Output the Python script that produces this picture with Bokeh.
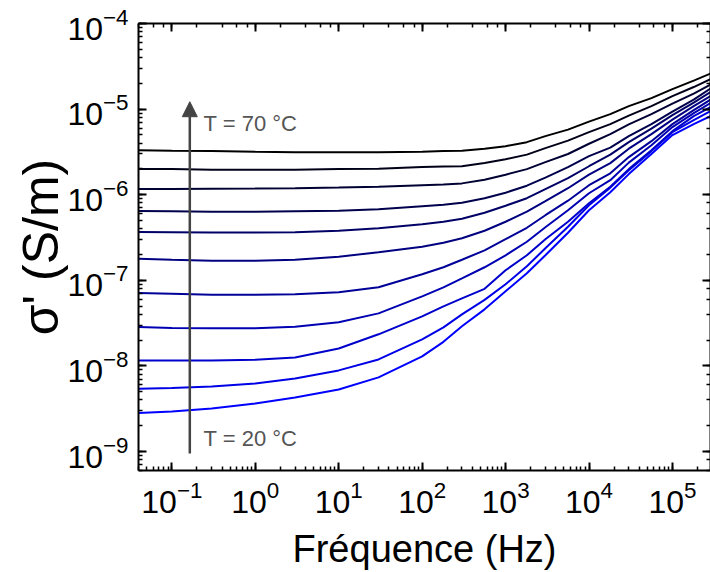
from bokeh.plotting import figure
from bokeh.models import Range1d, LogAxis, Arrow, NormalHead, Label, CustomJSTickFormatter
from bokeh.embed import file_html
from bokeh.resources import INLINE

# Frequency grid (Hz)
freq = [0.04, 0.1, 0.3, 1, 3, 10, 30, 100, 180, 300, 560, 1e3, 1800, 3e3, 5600,
        1e4, 1.8e4, 3e4, 5.6e4, 1e5, 1.8e5, 2.86e5]

# Temperatures (°C)
temps = [20, 25, 30, 35, 40, 45, 50, 55, 60, 65, 70]

# Real part of conductivity sigma' (S/m), one series per temperature
s20 = [2.81e-9, 2.94e-9, 3.18e-9, 3.64e-9, 4.28e-9, 5.31e-9, 7.34e-9, 1.29e-8, 1.91e-8, 2.90e-8, 4.58e-8,
       7.44e-8, 1.21e-7, 1.96e-7, 3.59e-7, 6.59e-7, 1.07e-6, 1.74e-6, 2.98e-6, 4.97e-6, 6.68e-6, 8.28e-6]
s25 = [5.41e-9, 5.53e-9, 5.76e-9, 6.24e-9, 7.14e-9, 8.86e-9, 1.19e-8, 2.04e-8, 2.82e-8, 4.00e-8, 5.91e-8,
       8.98e-8, 1.458e-7, 2.37e-7, 4.22e-7, 7.54e-7, 1.21e-6, 1.93e-6, 3.23e-6, 5.38e-6, 7.44e-6, 9.48e-6]
s30 = [1.16e-8, 1.16e-8, 1.16e-8, 1.18e-8, 1.257e-8, 1.60e-8, 2.34e-8, 3.79e-8, 4.97e-8, 6.16e-8, 7.95e-8,
       1.309e-7, 1.96e-7, 3.02e-7, 4.83e-7, 7.95e-7, 1.24e-6, 1.99e-6, 3.315e-6, 5.53e-6, 8.28e-6, 1.055e-5]
s35 = [2.84e-8, 2.78e-8, 2.75e-8, 2.75e-8, 2.86e-8, 3.23e-8, 4.11e-8, 6.50e-8, 8.28e-8, 1.055e-7, 1.42e-7,
       1.96e-7, 2.82e-7, 4.17e-7, 6.59e-7, 1.04e-6, 1.478e-6, 2.37e-6, 3.79e-6, 6.16e-6, 8.98e-6, 1.175e-5]
s40 = [7.10e-8, 6.95e-8, 6.77e-8, 6.77e-8, 6.86e-8, 7.24e-8, 8.28e-8, 1.175e-7, 1.42e-7, 1.74e-7, 2.24e-7,
       3.02e-7, 4.11e-7, 5.76e-7, 8.51e-7, 1.29e-6, 1.78e-6, 2.75e-6, 4.22e-6, 6.68e-6, 9.73e-6, 1.29e-5]
s45 = [1.79e-7, 1.74e-7, 1.69e-7, 1.69e-7, 1.74e-7, 1.88e-7, 2.13e-7, 2.47e-7, 2.75e-7, 3.10e-7, 3.79e-7,
       4.83e-7, 6.33e-7, 8.39e-7, 1.19e-6, 1.713e-6, 2.34e-6, 3.45e-6, 5.10e-6, 7.54e-6, 1.084e-5, 1.42e-5]
s50 = [3.67e-7, 3.64e-7, 3.61e-7, 3.61e-7, 3.64e-7, 3.79e-7, 4.06e-7, 4.52e-7, 4.83e-7, 5.24e-7, 6.16e-7,
       7.44e-7, 9.10e-7, 1.16e-6, 1.56e-6, 2.15e-6, 2.94e-6, 4.11e-6, 5.91e-6, 8.51e-6, 1.19e-5, 1.58e-5]
s55 = [6.46e-7, 6.41e-7, 6.33e-7, 6.33e-7, 6.41e-7, 6.50e-7, 6.77e-7, 7.34e-7, 7.64e-7, 8.06e-7, 9.10e-7,
       1.055e-6, 1.274e-6, 1.58e-6, 2.10e-6, 2.82e-6, 3.55e-6, 4.83e-6, 6.68e-6, 9.35e-6, 1.29e-5, 1.74e-5]
s60 = [1.169e-6, 1.169e-6, 1.175e-6, 1.18e-6, 1.19e-6, 1.21e-6, 1.24e-6, 1.29e-6, 1.316e-6, 1.356e-6, 1.497e-6,
       1.713e-6, 1.99e-6, 2.40e-6, 2.99e-6, 3.94e-6, 5.10e-6, 6.62e-6, 8.74e-6, 1.16e-5, 1.52e-5, 1.93e-5]
s65 = [2.00e-6, 1.99e-6, 1.96e-6, 1.96e-6, 1.96e-6, 1.99e-6, 2.01e-6, 2.10e-6, 2.13e-6, 2.15e-6, 2.34e-6,
       2.60e-6, 2.94e-6, 3.50e-6, 4.28e-6, 5.38e-6, 6.68e-6, 8.39e-6, 1.084e-5, 1.42e-5, 1.81e-5, 2.24e-5]
s70 = [3.315e-6, 3.27e-6, 3.23e-6, 3.18e-6, 3.14e-6, 3.14e-6, 3.14e-6, 3.18e-6, 3.23e-6, 3.27e-6, 3.45e-6,
       3.69e-6, 4.11e-6, 4.83e-6, 5.76e-6, 7.14e-6, 8.74e-6, 1.084e-5, 1.345e-5, 1.713e-5, 2.154e-5, 2.60e-5]

series = [s20, s25, s30, s35, s40, s45, s50, s55, s60, s65, s70]

# Annotation anchors
arrow_x = 0.164
arrow_y_start = 9.5e-10
arrow_y_end = 1.22e-5
label_x = 0.24
label_hi_y = 6.8e-6
label_lo_y = 1.43e-9

FONT = "Liberation Sans"

p = figure(width=710, height=572, x_axis_type="log", y_axis_type="log",
           x_range=Range1d(0.0398, 2.86e5), y_range=Range1d(6.0e-10, 1e-4),
           output_backend="svg", toolbar_location=None,
           min_border_left=138, min_border_right=0, min_border_top=23, min_border_bottom=102)
p.grid.visible = False
p.outline_line_color = None
p.background_fill_color = "white"
p.border_fill_color = "white"

for T, s in zip(temps, series):
    frac = (T - 20) / 50.0
    col = "#%02x%02x%02x" % (0, 0, int(round(255 * (1 - frac))))
    p.line(freq, s, line_color=col, line_width=2)


def style_axis(ax, labels=True):
    ax.axis_line_color = "black"
    ax.axis_line_width = 2
    ax.major_tick_line_color = "black"
    ax.major_tick_line_width = 2
    ax.minor_tick_line_color = "black"
    ax.minor_tick_line_width = 1.5
    ax.major_tick_in = 8
    ax.major_tick_out = 0
    ax.minor_tick_in = 4
    ax.minor_tick_out = 0
    if labels:
        ax.major_label_text_font = FONT
        ax.major_label_text_font_size = "32px"
        ax.major_label_text_color = "black"
        ax.major_label_standoff = 10
        ax.axis_label_text_font = FONT
        ax.axis_label_text_font_style = "normal"
        ax.axis_label_text_color = "black"
    else:
        ax.formatter = CustomJSTickFormatter(code="return ''")
        ax.major_label_standoff = 0
        ax.major_label_text_font_size = "1px"


style_axis(p.xaxis[0])
style_axis(p.yaxis[0])
p.xaxis[0].axis_label = "Fréquence (Hz)"
p.xaxis[0].axis_label_text_font_size = "38px"
p.xaxis[0].axis_label_standoff = 12
p.yaxis[0].axis_label = "σ' (S/m)"
p.yaxis[0].axis_label_text_font_size = "50px"
p.yaxis[0].axis_label_standoff = -5

top_ax = LogAxis()
style_axis(top_ax, labels=False)
p.add_layout(top_ax, "above")
right_ax = LogAxis()
style_axis(right_ax, labels=False)
p.add_layout(right_ax, "right")

arrow = Arrow(end=NormalHead(size=15, fill_color="#444444", line_color="#444444"),
              x_start=arrow_x, y_start=arrow_y_start, x_end=arrow_x, y_end=arrow_y_end,
              line_color="#444444", line_width=2.5)
p.add_layout(arrow)

for txt, yy in [("T = 70 °C", label_hi_y), ("T = 20 °C", label_lo_y)]:
    p.add_layout(Label(x=label_x, y=yy, text=txt, text_font=FONT, text_font_size="22px",
                       text_color="#555555", text_baseline="middle", text_align="left"))

open("out.html", "w").write(file_html(p, INLINE))
